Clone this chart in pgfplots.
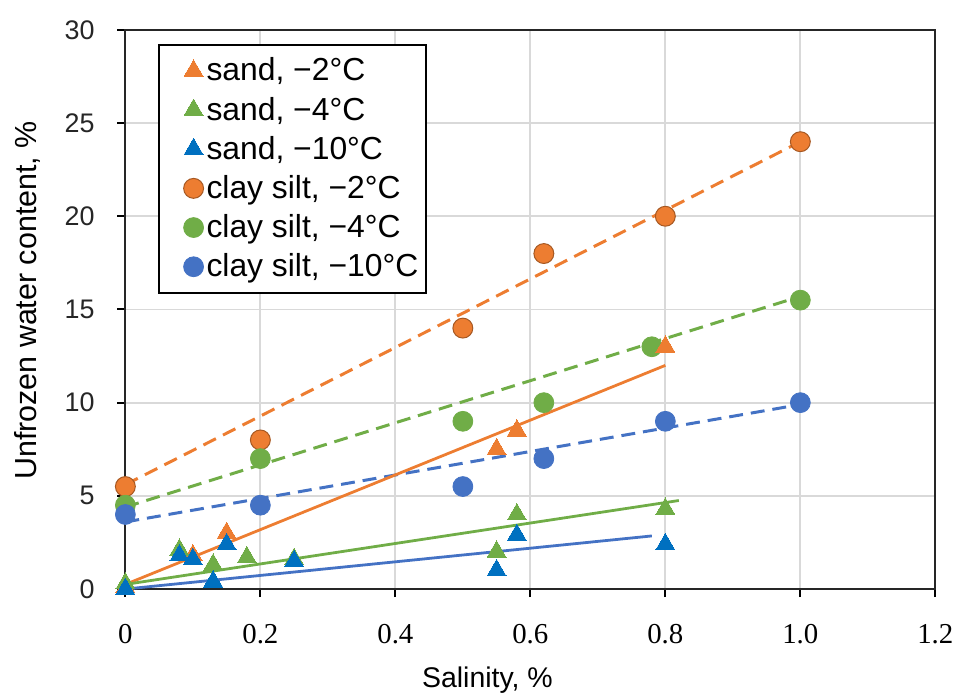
\documentclass[border=0pt]{standalone}
\usepackage{fontspec}
\setmainfont{Liberation Sans}
\newfontfamily\numserif{Liberation Serif}
\usepackage{pgfplots}
\pgfplotsset{compat=1.18}

\definecolor{xorange}{HTML}{ED7D31}
\definecolor{xgreen}{HTML}{70AD47}
\definecolor{xblue}{HTML}{4472C4}
\definecolor{xsandblue}{HTML}{0070C0}
\definecolor{gridgray}{HTML}{D9D9D9}

\begin{document}
\begin{tikzpicture}
\begin{axis}[
  width=407pt, height=281pt, scale only axis,
  xmin=0, xmax=1.2, ymin=0, ymax=30,
  xtick={0,0.2,0.4,0.6,0.8,1.0,1.2},
  xticklabels={0,0.2,0.4,0.6,0.8,1.0,1.2},
  ytick={0,5,10,15,20,25,30},
  grid=major,
  major grid style={draw=gridgray, line width=0.9pt},
  axis line style={line width=1.1pt, draw=black!85},
  tick align=outside, xtick pos=bottom, ytick pos=left,
  major tick length=4pt,
  tick style={line width=1pt, black},
  /pgf/number format/assume math mode=true,
  yticklabel style={font=\fontsize{13.5}{15}\selectfont, xshift=-8pt, text=black!85},
  xticklabel style={font=\numserif\fontsize{14.5}{16}\selectfont, yshift=-10pt},
  xlabel={Salinity, \%},
  ylabel={Unfrozen water content, \%},
  xlabel style={font=\fontsize{14.3}{16}\selectfont, at={(axis description cs:0.447,-0.162)}, anchor=center},
  ylabel style={font=\fontsize{15.3}{17}\selectfont, at={(axis description cs:-0.1204,0.516)}, anchor=center, rotate=0},
  clip=false,
  legend cell align=left,
  legend style={
    at={(axis description cs:0.0405,0.975)}, anchor=north west,
    font=\fontsize{16}{18}\selectfont,
    draw=black, line width=1pt,
    row sep=3.6pt, inner xsep=2.5pt, inner ysep=5pt,
    nodes={inner sep=1.5pt},
  },
  legend image code/.code={\path[draw=none, fill=none] (-0.22cm,0) -- (0.3cm,0); \draw[#1] plot coordinates {(0.3cm,0cm)};},
]
\path (axis description cs:-0.1548,-0.1868) rectangle (axis description cs:1.0246,1.0534);

% trend lines, clay silt (dashed)
\addplot[forget plot, draw=xorange, line width=1.5pt, dash pattern=on 7pt off 4pt] coordinates {(0,5.6) (1.0,24.0)};
\addplot[forget plot, draw=xgreen, line width=1.5pt, dash pattern=on 7pt off 4pt] coordinates {(0,4.4) (1.0,15.7)};
\addplot[forget plot, draw=xblue, line width=1.5pt, dash pattern=on 7pt off 4pt] coordinates {(0,3.6) (1.0,9.9)};
% trend lines, sand (solid)
\addplot[forget plot, draw=xorange, line width=1.4pt] coordinates {(0,0.25) (0.8,12.0)};
\addplot[forget plot, draw=xgreen, line width=1.4pt] coordinates {(0,0.25) (0.82,4.75)};
\addplot[forget plot, draw=xblue, line width=1.4pt] coordinates {(0,0.0) (0.78,2.85)};

% clay silt point under the sand triangle at 0.8
\addplot[only marks, forget plot, color=xgreen, mark=*, mark size=5pt, mark options={fill=xgreen, draw=xgreen, line width=0.4pt}]
  coordinates {(0.78,13.0)};

% sand
\addplot[only marks, color=xorange, mark=triangle*, mark size=5.5pt, mark options={fill=xorange, draw=xorange, line width=0pt}]
  coordinates {(0,0.1) (0.1,1.8) (0.15,3.0) (0.55,7.5) (0.58,8.5) (0.8,13.0)};
\addlegendentry{sand, −2°C}
\addplot[only marks, color=xgreen, mark=triangle*, mark size=5.5pt, mark options={fill=xgreen, draw=xgreen, line width=0pt}]
  coordinates {(0,0.3) (0.08,2.1) (0.13,1.3) (0.18,1.7) (0.25,1.6) (0.55,2.0) (0.58,4.0) (0.8,4.3)};
\addlegendentry{sand, −4°C}
\addplot[only marks, color=xsandblue, mark=triangle*, mark size=5.5pt, mark options={fill=xsandblue, draw=xsandblue, line width=0pt}]
  coordinates {(0,0.0) (0.08,1.8) (0.1,1.6) (0.13,0.4) (0.15,2.4) (0.25,1.5) (0.55,1.0) (0.58,2.9) (0.8,2.4)};
\addlegendentry{sand, −10°C}

% clay silt
\addplot[only marks, color=xorange, mark=*, mark size=5pt, mark options={fill=xorange, draw=xorange!70!black, line width=0.5pt}]
  coordinates {(0,5.5) (0.2,8.0) (0.5,14.0) (0.62,18.0) (0.8,20.0) (1.0,24.0)};
\addlegendentry{clay silt, −2°C}
\addplot[only marks, color=xgreen, mark=*, mark size=5pt, mark options={fill=xgreen, draw=xgreen, line width=0.4pt}]
  coordinates {(0,4.5) (0.2,7.0) (0.5,9.0) (0.62,10.0) (1.0,15.5)};
\addlegendentry{clay silt, −4°C}
\addplot[only marks, color=xblue, mark=*, mark size=5pt, mark options={fill=xblue, draw=xblue, line width=0.4pt}]
  coordinates {(0,4.0) (0.2,4.5) (0.5,5.5) (0.62,7.0) (0.8,9.0) (1.0,10.0)};
\addlegendentry{clay silt, −10°C}
\end{axis}
\end{tikzpicture}
\end{document}
